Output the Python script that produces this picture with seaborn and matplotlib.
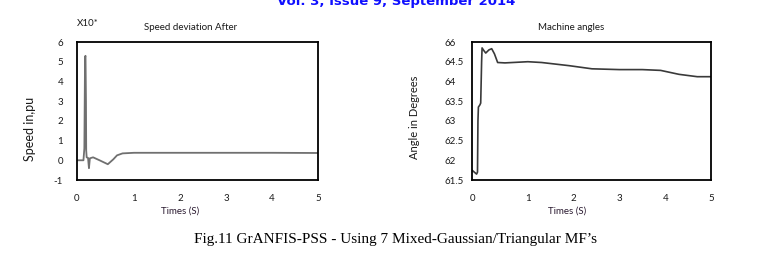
import matplotlib
matplotlib.use("Agg")
import matplotlib.pyplot as plt
import pandas as pd
import seaborn as sns

# ---------------- data ----------------
speed_t = [-0.24, -0.10, -0.08, -0.065, -0.055, -0.045, -0.04, -0.03, 0.0, 0.02, 0.04,
           0.11, 0.25, 0.43, 0.55, 0.63, 0.75, 1.0, 2.0, 3.0, 4.0, 5.0]
speed_v = [0.0, 0.0, 0.6, 5.25, 5.3, 3.0, 0.5, 0.15, 0.12, -0.4, 0.1,
           0.15, 0.0, -0.2, 0.05, 0.25, 0.35, 0.38, 0.38, 0.38, 0.38, 0.37]

angle_t = [-0.22, -0.12, -0.10, -0.09, -0.08, -0.05, -0.03, -0.01, 0.0, 0.04, 0.08,
           0.15, 0.21, 0.27, 0.34, 0.5, 1.0, 1.3, 1.9, 2.4, 3.0, 3.5, 3.9, 4.3, 4.7, 5.0]
angle_v = [61.75, 61.65, 61.7, 63.0, 63.35, 63.4, 63.45, 64.5, 64.85, 64.78, 64.72,
           64.8, 64.83, 64.7, 64.48, 64.47, 64.5, 64.48, 64.4, 64.32, 64.3, 64.3, 64.28,
           64.18, 64.12, 64.12]

speed_yticks = [-1, 0, 1, 2, 3, 4, 5, 6]
speed_yticklabels = ["-1", "0", "1", "2", "3", "4", "5", "6"]
angle_yticks = [61.5, 62, 62.5, 63, 63.5, 64, 64.5, 65]
angle_yticklabels = ["61.5", "62", "62.5", "63", "63.5", "64", "64.5", "66"]
xtick_labels = ["0", "1", "2", "3", "4", "5"]

speed_df = pd.DataFrame({"t": speed_t, "v": speed_v})
angle_df = pd.DataFrame({"t": angle_t, "v": angle_v})

# ---------------- style ----------------
sns.set_style("white")
plt.rcParams["font.family"] = ["Lato", "DejaVu Sans"]

W, H = 763, 259
fig = plt.figure(figsize=(W / 100, H / 100), dpi=100)
fig.patch.set_facecolor("white")


def px_axes(x0, y0, x1, y1):
    return fig.add_axes([x0 / W, 1 - y1 / H, (x1 - x0) / W, (y1 - y0) / H])


ax1 = px_axes(77, 42, 318, 180)
ax2 = px_axes(472, 42, 711, 180)

sns.lineplot(data=speed_df, x="t", y="v", ax=ax1, color="#707070", lw=1.3,
             estimator=None, sort=False)
sns.lineplot(data=angle_df, x="t", y="v", ax=ax2, color="#3a3a3a", lw=1.2,
             estimator=None, sort=False)

for ax in (ax1, ax2):
    for s in ax.spines.values():
        s.set_visible(True)
        s.set_color("black")
        s.set_linewidth(1.3)
    ax.set_xlabel("")
    ax.set_ylabel("")
    ax.tick_params(axis="both", direction="in", length=5, width=1.1, colors="black",
                   labelsize=7, labelcolor="#1a1a1a")
    ax.tick_params(axis="x", pad=10)
    ax.grid(False)

# left axes
ax1.set_xlim(-0.24, 5.0)
ax1.set_ylim(-1, 6)
ax1.set_xticks([-0.24, 1, 2, 3, 4, 5])
ax1.set_xticklabels(xtick_labels)
ax1.set_yticks(speed_yticks)
ax1.set_yticklabels(speed_yticklabels)
ax1.tick_params(axis="y", pad=10)

# right axes
ax2.set_xlim(-0.22, 5.0)
ax2.set_ylim(61.5, 65)
ax2.set_xticks([-0.22, 1, 2, 3, 4, 5])
ax2.set_xticklabels(xtick_labels)
ax2.set_yticks(angle_yticks)
ax2.set_yticklabels(angle_yticklabels)
ax2.tick_params(axis="y", pad=20)
for lab in ax2.get_yticklabels():
    lab.set_horizontalalignment("left")


def ftext(x, y, s, **kw):
    fig.text(x / W, 1 - y / H, s, **kw)


# titles and labels
ftext(77, 23, "X10*", ha="left", va="center", fontsize=7, color="#1a1a1a")
ftext(191, 28, "Speed deviation After", ha="center", va="center", fontsize=7, color="#1a1a1a")
ftext(571, 27, "Machine angles", ha="center", va="center", fontsize=7, color="#1a1a1a")
ftext(30, 129, "Speed in,pu", ha="center", va="center", rotation=90, fontsize=9, color="#1a1a1a")
ftext(415, 117, "Angle in Degrees", ha="center", va="center", rotation=90, fontsize=8, color="#1a1a1a")
ftext(180, 211, "Times (S)", ha="center", va="center", fontsize=7, color="#2a1a30")
ftext(567, 211, "Times (S)", ha="center", va="center", fontsize=7, color="#2a1a30")

# caption
ftext(396, 240, "Fig.11 GrANFIS-PSS - Using 7 Mixed-Gaussian/Triangular MF\u2019s",
      ha="center", va="center", fontsize=11, family=["Liberation Serif", "DejaVu Serif"],
      color="black")

# cropped journal header at the top
ftext(396, 5, "Vol. 3, Issue 9, September 2014", ha="center", va="baseline",
      fontsize=9.5, fontweight="bold", family=["DejaVu Sans"], color="#1010ff")

fig.savefig("out.png", dpi=100)
